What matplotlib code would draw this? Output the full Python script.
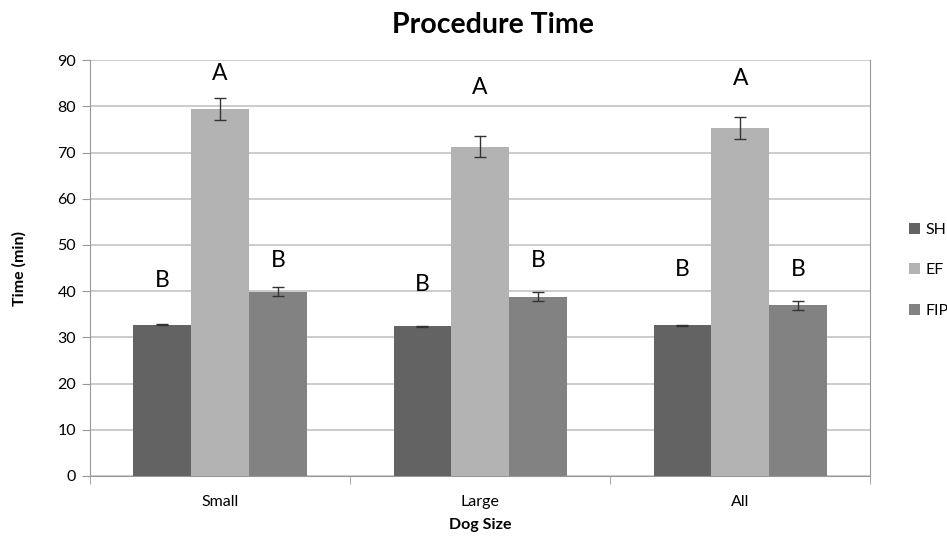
import matplotlib
matplotlib.use("Agg")
import matplotlib.pyplot as plt
import numpy as np

plt.rcParams['font.family'] = ['Lato', 'DejaVu Sans']

categories = ["Small", "Large", "All"]
series = ["SH", "EF", "FIP"]
sh_vals = [32.7, 32.4, 32.6]
sh_err = [0.1, 0.1, 0.1]
ef_vals = [79.4, 71.3, 75.3]
ef_err = [2.4, 2.3, 2.3]
fip_vals = [39.9, 38.8, 36.9]
fip_err = [0.9, 1.0, 1.0]
sh_letters = ["B", "B", "B"]
ef_letters = ["A", "A", "A"]
fip_letters = ["B", "B", "B"]
sh_letter_y = [42.4, 41.5, 44.6]
ef_letter_y = [87.2, 84.0, 86.0]
fip_letter_y = [46.7, 46.7, 44.6]
yticks = [0, 10, 20, 30, 40, 50, 60, 70, 80, 90]

colors = ["#636363", "#b3b3b3", "#828282"]

fig = plt.figure(figsize=(9.47, 5.42), dpi=100)
ax = fig.add_axes([0.095, 0.1218, 0.824, 0.7672])

x = np.arange(len(categories))
w = 0.222
vals = [sh_vals, ef_vals, fip_vals]
errs = [sh_err, ef_err, fip_err]
letters = [sh_letters, ef_letters, fip_letters]
letter_y = [sh_letter_y, ef_letter_y, fip_letter_y]
for i in range(3):
    xs = x + (i - 1) * w
    ax.bar(xs, vals[i], width=w, color=colors[i], label=series[i], zorder=3,
           yerr=errs[i], error_kw=dict(ecolor="#333333", elinewidth=1, capsize=4, capthick=1, zorder=4))
    for xx, t, yy in zip(xs, letters[i], letter_y[i]):
        ax.text(xx, yy, t, ha="center", va="center", fontsize=16.5, color="black")

ax.set_ylim(0, 90)
ax.set_xlim(-0.5, 2.5)
ax.set_yticks(yticks)
ax.yaxis.grid(True, color="#c4c4c4", linewidth=1.2, zorder=0)
ax.set_axisbelow(True)
ax.set_xticks(x)
ax.set_xticklabels(categories, fontsize=11.5)
ax.tick_params(axis='x', length=0, pad=14)
ax.set_xticks([-0.5, 0.5, 1.5, 2.5], minor=True)
ax.tick_params(axis='x', which='minor', length=6, color="#999999", direction='out')
ax.tick_params(axis='y', length=6, color="#999999", labelsize=11.5, pad=4)
ax.spines["top"].set_visible(False)
ax.spines["left"].set_color("#999999")
ax.spines["bottom"].set_color("#999999")
ax.spines["right"].set_color("#999999")

ax.set_ylabel("Time (min)", fontsize=11.5, fontweight="bold", labelpad=22)
ax.set_xlabel("Dog Size", fontsize=11.5, fontweight="bold", labelpad=6)
fig.suptitle("Procedure Time", fontsize=20.5, fontweight="bold", x=0.52, y=0.978)

ax.legend(loc="center left", bbox_to_anchor=(1.049, 0.495), frameon=False,
          fontsize=11.5, handlelength=0.7, handleheight=0.7, labelspacing=1.65, handletextpad=0.35,
          borderpad=0, borderaxespad=0)

fig.savefig("out.png", dpi=100)
